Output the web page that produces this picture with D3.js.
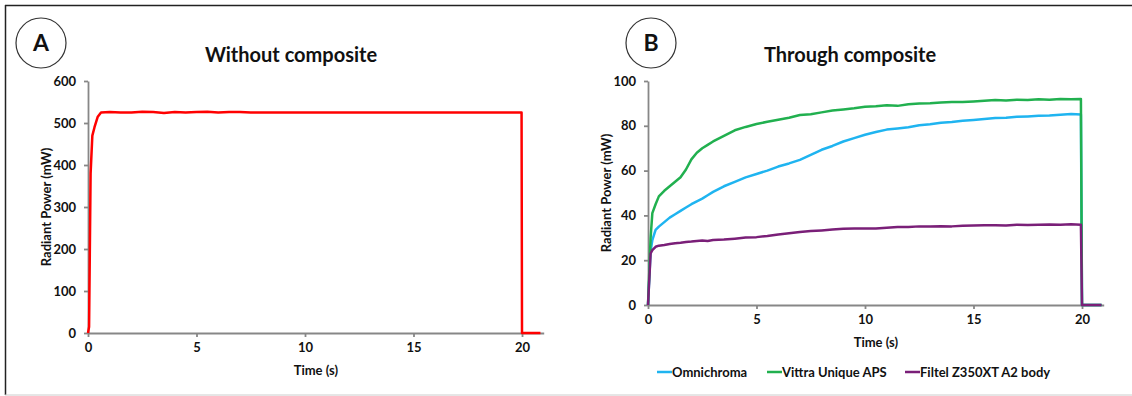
<!DOCTYPE html>
<html><head><meta charset="utf-8">
<script src="https://cdn.jsdelivr.net/npm/d3@7/dist/d3.min.js"></script>
<style>
html,body{margin:0;padding:0;background:#fff;}
svg{display:block;}
text{font-family:Lato,"Open Sans",sans-serif;font-weight:bold;fill:#111;}
</style></head>
<body><svg id="c" width="1132" height="396"></svg>
<script>
// ---- data ----
const timeA = [0, 0.05, 0.12, 0.2, 0.3, 0.45, 0.6, 1, 1.5, 2, 2.5, 3, 3.5, 4, 4.5, 5, 5.5, 6, 6.5, 7, 7.5, 8, 10, 12, 14, 16, 18, 19.98, 20, 20.85];
const powerA = [0, 15, 380, 470, 490, 515, 525, 526, 525, 525, 527, 526, 524, 526, 525, 526, 527, 525, 526, 526, 525, 525, 525, 525, 525, 525, 525, 525, 0, 0];

const timeB = [0, 0.12, 0.2, 0.35, 0.5, 0.75, 1.0, 1.25, 1.5, 1.75, 2.0, 2.25, 2.5, 2.75, 3.0, 3.5, 4.0, 4.5, 5.0, 5.5, 6.0, 6.5, 7.0, 7.5, 8.0, 8.5, 9.0, 9.5, 10, 10.5, 11, 11.5, 12, 12.5, 13, 13.5, 14, 14.5, 15, 15.5, 16, 16.5, 17, 17.5, 18, 18.5, 19, 19.5, 19.95, 20.0, 20.9];
const omnichroma = [0, 24, 29, 33.5, 35, 37, 39, 40.5, 42, 43.5, 45, 46.3, 47.5, 49, 50.5, 53, 55, 57, 58.5, 60, 61.8, 63.2, 64.8, 67, 69.3, 71, 73, 74.5, 76, 77.2, 78.3, 78.8, 79.4, 80.2, 80.7, 81.4, 81.7, 82.3, 82.6, 83, 83.5, 83.6, 84, 84.2, 84.5, 84.6, 84.9, 85.3, 85, 0, 0];
const vittra = [0, 30, 41, 45, 48.5, 51, 53, 55, 57, 60.5, 65, 68, 70, 71.5, 73, 75.5, 78, 79.5, 80.8, 81.8, 82.7, 83.6, 84.8, 85.2, 86, 86.8, 87.3, 87.8, 88.5, 88.7, 89.2, 88.9, 89.6, 90, 90.1, 90.4, 90.6, 90.6, 90.9, 91.2, 91.5, 91.3, 91.6, 91.5, 91.8, 91.6, 92, 91.8, 92, 0, 0];
const filtel = [0, 23, 24.5, 26, 26.5, 26.8, 27.2, 27.6, 27.8, 28.1, 28.3, 28.6, 28.8, 28.6, 29, 29.2, 29.6, 30.1, 30.3, 30.8, 31.5, 32, 32.6, 33, 33.3, 33.7, 34, 34.1, 34.2, 34.1, 34.5, 34.8, 34.8, 35.1, 35, 35.2, 35.1, 35.4, 35.5, 35.6, 35.6, 35.5, 35.8, 35.7, 35.8, 35.9, 35.8, 36, 35.8, 0, 0];

const seriesNames = ["Omnichroma", "Vittra Unique APS", "Filtel Z350XT A2 body"];
const seriesColors = ["#1fb4f0", "#21b04f", "#7a1f78"];
const ticksX = [0, 5, 10, 15, 20];
const ticksYA = [0, 100, 200, 300, 400, 500, 600];
const ticksYB = [0, 20, 40, 60, 80, 100];

// ---- drawing ----
const svg = d3.select("#c");
// frame
svg.append("line").attr("x1",5).attr("x2",1132).attr("y1",5.5).attr("y2",5.5).attr("stroke","#222").attr("stroke-width",1.5);
svg.append("line").attr("x1",5.5).attr("x2",5.5).attr("y1",5).attr("y2",395).attr("stroke","#222").attr("stroke-width",1.5);
svg.append("line").attr("x1",5).attr("x2",1132).attr("y1",395).attr("y2",395).attr("stroke","#ccc").attr("stroke-width",1);

function panel(opt){
  const g = svg.append("g");
  const x = d3.scaleLinear().domain([0,21]).range([opt.x0, opt.x0 + 21*21.7]);
  const y = d3.scaleLinear().domain([0,opt.ymax]).range([opt.y0, 81]);
  // axes
  const ax = g.append("g").attr("transform",`translate(0,${opt.y0})`)
    .call(d3.axisBottom(x).tickValues(ticksX).tickSize(4).tickSizeOuter(0).tickPadding(6));
  const ay = g.append("g").attr("transform",`translate(${opt.x0},0)`)
    .call(d3.axisLeft(y).tickValues(opt.ticksY).tickSize(4).tickSizeOuter(0).tickPadding(8));
  [ax,ay].forEach(a=>{
    a.selectAll("path,line").attr("stroke","#878787").attr("stroke-width",1.8);
    a.selectAll("text").attr("font-size",13).attr("fill","#111").style("font-family","Lato,sans-serif").style("font-weight","bold");
  });
  // axis labels
  g.append("text").attr("x", x(10.5)).attr("y", opt.y0 + 42).attr("text-anchor","middle").attr("font-size",13).text("Time (s)");
  g.append("text").attr("transform",`translate(${opt.x0-40},${(opt.y0+81)/2}) rotate(-90)`)
    .attr("text-anchor","middle").attr("dominant-baseline","middle").attr("font-size",13).text("Radiant Power (mW)");
  // title
  g.append("text").attr("x", opt.titleX).attr("y", 62).attr("text-anchor","middle").attr("font-size",20).text(opt.title);
  // circle label
  g.append("circle").attr("cx",opt.cx).attr("cy",43).attr("r",25).attr("fill","none").attr("stroke","#333").attr("stroke-width",1.2);
  g.append("text").attr("x",opt.cx).attr("y",51).attr("text-anchor","middle").attr("font-size",23).text(opt.letter);
  return {g,x,y};
}

// Panel A
const A = panel({x0:88, y0:333, ymax:600, ticksY:ticksYA, title:"Without composite", titleX:291, cx:41, letter:"A"});
A.g.append("path").datum(timeA.map((t,i)=>[t,powerA[i]]))
  .attr("fill","none").attr("stroke","#ff0000").attr("stroke-width",2.5).attr("stroke-linejoin","round")
  .attr("d", d3.line().x(d=>A.x(d[0])).y(d=>A.y(d[1])));

// Panel B
const B = panel({x0:648, y0:305, ymax:100, ticksY:ticksYB, title:"Through composite", titleX:850, cx:651, letter:"B"});
[omnichroma, vittra, filtel].forEach((vals,k)=>{
  B.g.append("path").datum(timeB.map((t,i)=>[t,vals[i]]))
    .attr("fill","none").attr("stroke",seriesColors[k]).attr("stroke-width",2.5).attr("stroke-linejoin","round")
    .attr("d", d3.line().x(d=>B.x(d[0])).y(d=>B.y(d[1])));
});

// Legend
const legX = [657, 767, 905];
const lg = svg.append("g");
seriesNames.forEach((n,k)=>{
  lg.append("line").attr("x1",legX[k]).attr("x2",legX[k]+15).attr("y1",372).attr("y2",372)
    .attr("stroke",seriesColors[k]).attr("stroke-width",2.5);
  lg.append("text").attr("x",legX[k]+15).attr("y",376.5).attr("font-size",13).text(n);
});
</script></body></html>
